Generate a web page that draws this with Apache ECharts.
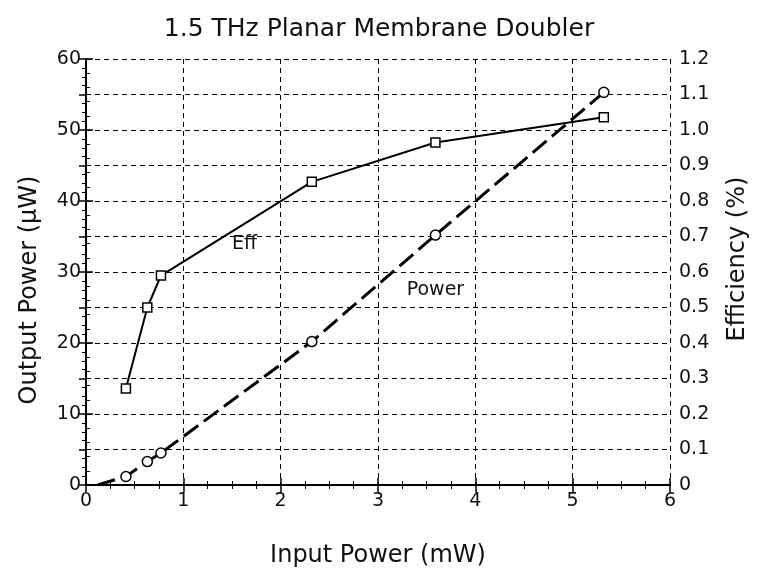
<!DOCTYPE html>
<html>
<head>
<meta charset="utf-8">
<script src="https://cdn.jsdelivr.net/npm/echarts@6/dist/echarts.min.js"></script>
<style>
  html, body { margin: 0; padding: 0; background: #fff; }
  #chart { width: 758px; height: 573px; }
</style>
</head>
<body>
<div id="chart"></div>
<script>
// input power (mW) for each measured point
var inputPower = [0.41, 0.63, 0.77, 2.32, 3.59, 5.32];
// output power (uW), dashed curve with circles
var outputPower = [1.2, 3.3, 4.5, 20.2, 35.2, 55.3];
// efficiency (%), solid curve with squares
var efficiency = [0.272, 0.50, 0.59, 0.854, 0.965, 1.036];
// where the power curve leaves the axis
var powerStart = [0.12, 0];

var FONT = '"DejaVu Sans", "Liberation Sans", sans-serif';

var chart = echarts.init(document.getElementById('chart'));

var powerData = [{ value: powerStart, symbol: 'none' }];
for (var i = 0; i < inputPower.length; i++) {
    powerData.push([inputPower[i], outputPower[i]]);
}
var effData = inputPower.map(function (x, i) { return [x, efficiency[i]]; });

var tickStyle = { inside: true, length: 7, lineStyle: { color: '#000', width: 1.5 } };
var minorStyle = { show: true, length: 4, lineStyle: { color: '#000', width: 1 } };

var option = {
    backgroundColor: '#fff',
    animation: false,
    title: {
        text: '1.5 THz Planar Membrane Doubler',
        left: 'center',
        top: 12,
        textStyle: { fontFamily: FONT, fontSize: 25, fontWeight: 'normal', color: '#111' }
    },
    grid: { left: 86, right: 86, top: 59, bottom: 87 },
    xAxis: [{
        type: 'value',
        min: 0, max: 6, interval: 1,
        name: 'Input Power (mW)',
        nameLocation: 'middle',
        nameGap: 59,
        nameTextStyle: { fontFamily: FONT, fontSize: 24, color: '#111' },
        axisLine: { lineStyle: { color: '#000', width: 2 } },
        axisTick: tickStyle,
        minorTick: Object.assign({ splitNumber: 4 }, minorStyle),
        axisLabel: { fontFamily: FONT, fontSize: 19, color: '#111', margin: 7 },
        splitLine: { show: true, lineStyle: { color: '#000', width: 1, type: [5, 4] } }
    }, {
        type: 'value',
        position: 'top',
        min: 0, max: 6, interval: 1,
        axisLine: { show: true, lineStyle: { color: '#000', width: 2 } },
        axisTick: tickStyle,
        minorTick: Object.assign({ splitNumber: 4 }, minorStyle),
        axisLabel: { show: false },
        splitLine: { show: false }
    }],
    yAxis: [{
        type: 'value',
        min: 0, max: 60, interval: 10,
        name: 'Output Power (μW)',
        nameLocation: 'middle',
        nameGap: 44,
        nameTextStyle: { fontFamily: FONT, fontSize: 24, color: '#111', padding: [0, 36, 0, 0] },
        axisLine: { show: true, lineStyle: { color: '#000', width: 2 } },
        axisTick: tickStyle,
        minorTick: Object.assign({ splitNumber: 5 }, minorStyle),
        axisLabel: { fontFamily: FONT, fontSize: 19, color: '#111', margin: 5 },
        splitLine: { show: false }
    }, {
        type: 'value',
        position: 'right',
        min: 0, max: 1.2, interval: 0.1,
        name: 'Efficiency (%)',
        nameLocation: 'middle',
        nameGap: 56,
        nameTextStyle: { fontFamily: FONT, fontSize: 24, color: '#111', padding: [0, 0, 0, 26] },
        axisLine: { show: true, lineStyle: { color: '#000', width: 2 } },
        axisTick: tickStyle,
        minorTick: Object.assign({ splitNumber: 4 }, minorStyle),
        axisLabel: {
            fontFamily: FONT, fontSize: 19, color: '#111', margin: 9,
            formatter: function (v) { return v === 0 ? '0' : v.toFixed(1); }
        },
        splitLine: { show: true, lineStyle: { color: '#000', width: 1, type: [5, 4] } }
    }],
    series: [{
        name: 'Power',
        type: 'line',
        xAxisIndex: 0,
        yAxisIndex: 0,
        data: powerData,
        symbol: 'circle',
        symbolSize: 10,
        itemStyle: { color: '#fff', borderColor: '#000', borderWidth: 1.5 },
        lineStyle: { color: '#000', width: 3, type: [18, 7] },
        markPoint: {
            symbol: 'rect', symbolSize: 0,
            label: { show: true, formatter: 'Power', fontFamily: FONT, fontSize: 19, color: '#111' },
            data: [{ coord: [3.59, 27.4] }]
        }
    }, {
        name: 'Eff',
        type: 'line',
        xAxisIndex: 0,
        yAxisIndex: 1,
        data: effData,
        symbol: 'rect',
        symbolSize: 9,
        itemStyle: { color: '#fff', borderColor: '#000', borderWidth: 1.5 },
        lineStyle: { color: '#000', width: 2 },
        markPoint: {
            symbol: 'rect', symbolSize: 0,
            label: { show: true, formatter: 'Eff', fontFamily: FONT, fontSize: 19, color: '#111' },
            data: [{ coord: [1.63, 0.68] }]
        }
    }]
};

chart.setOption(option);
</script>
</body>
</html>
